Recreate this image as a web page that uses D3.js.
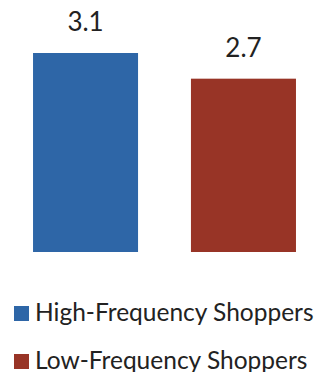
<!DOCTYPE html>
<html>
<head>
<meta charset="utf-8">
<script src="https://cdn.jsdelivr.net/npm/d3@7"></script>
<style>
  html, body { margin: 0; padding: 0; background: #fff; }
  svg { display: block; }
  text { font-family: Lato, "Open Sans", sans-serif; fill: #222; }
</style>
</head>
<body>
<svg id="chart" width="322" height="372"></svg>
<script>
const categories = ["High-Frequency Shoppers", "Low-Frequency Shoppers"];
const values = [3.1, 2.7];
const valueLabels = ["3.1", "2.7"];
const colors = ["#2E66A7", "#983426"];

const svg = d3.select("#chart");
const baseline = 252;

const x = d3.scaleBand()
  .domain(categories)
  .range([6.5, 322.5])
  .paddingInner(0.335)
  .paddingOuter(0.168);

const y = d3.scaleLinear()
  .domain([0, 3.1])
  .range([baseline, 53]);

svg.selectAll("rect.bar")
  .data(categories)
  .join("rect")
  .attr("class", "bar")
  .attr("x", d => x(d))
  .attr("width", x.bandwidth())
  .attr("y", (d, i) => y(values[i]))
  .attr("height", (d, i) => baseline - y(values[i]))
  .attr("fill", (d, i) => colors[i]);

svg.selectAll("text.val")
  .data(categories)
  .join("text")
  .attr("class", "val")
  .attr("x", d => x(d) + x.bandwidth() / 2)
  .attr("y", (d, i) => y(values[i]) - 22)
  .attr("text-anchor", "middle")
  .style("font-size", "26px")
  .text((d, i) => valueLabels[i]);

// Legend, one entry per row
const legend = svg.selectAll("g.legend")
  .data(categories)
  .join("g")
  .attr("class", "legend")
  .attr("transform", (d, i) => `translate(14, ${306 + i * 48})`);

legend.append("rect")
  .attr("width", 15)
  .attr("height", 15)
  .attr("fill", (d, i) => colors[i]);

legend.append("text")
  .attr("x", 21)
  .attr("y", 15)
  .style("font-size", "24.5px")
  .text(d => d);
</script>
</body>
</html>
